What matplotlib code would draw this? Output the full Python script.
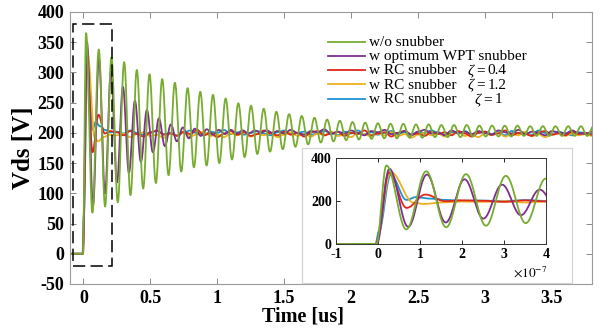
import numpy as np
import matplotlib
matplotlib.use('Agg')
import matplotlib.pyplot as plt
from matplotlib.patches import Rectangle
from matplotlib.lines import Line2D

plt.rcParams['font.family'] = ['Liberation Serif', 'DejaVu Serif']
plt.rcParams['mathtext.fontset'] = 'stix'
plt.rcParams['axes.unicode_minus'] = False

# ---------------- data (time in us, Vds in V) ----------------
legend_names = ['w/o snubber', 'w optimum WPT snubber', 'w RC snubber', 'w RC snubber', 'w RC snubber']
legend_zeta = [None, None, '0.4', '1.2', '1']
col_green, col_purple, col_red, col_yellow, col_blue = '#77AC30', '#7E2F8E', '#E2261B', '#EDB120', '#1E92D6'
legend_colors = [col_green, col_purple, col_red, col_yellow, col_blue]

x_ticks = [0, 0.5, 1, 1.5, 2, 2.5, 3, 3.5]
x_tick_labels = ['0', '0.5', '1', '1.5', '2', '2.5', '3', '3.5']
y_ticks = [-50, 0, 50, 100, 150, 200, 250, 300, 350, 400]
inset_x_ticks = [-1e-7, 0, 1e-7, 2e-7, 3e-7, 4e-7]
inset_x_tick_labels = ['-1', '0', '1', '2', '3', '4']
inset_x_multiplier = r'$\times10^{-7}$'
inset_y_ticks = [0, 200, 400]

# w/o snubber: flat start, then ringing extrema (peak / trough per cycle)
green_start_t = [-0.1, -0.004]
green_start_v = [0, 0]
green_first_peak_t = 0.02
green_period = 0.0948
green_peaks = [365, 338, 325, 317, 304, 297, 289, 283, 274, 268, 263, 257, 249, 245, 240, 235,
               231, 228, 225, 222, 220, 218, 217, 216, 215, 215, 214, 214, 213, 213, 213, 212,
               212, 212, 212, 211, 211, 211, 211, 211, 211]
green_troughs = [68, 78, 85, 97, 108, 117, 130, 136, 143, 146, 150, 156, 160, 165, 169, 173,
                 177, 181, 184, 186, 188, 189, 190, 191, 191, 192, 192, 193, 193, 193, 194, 194,
                 194, 194, 195, 195, 195, 195, 195, 195, 195]

# optimum WPT snubber
purple_start_t = [-0.1, -0.003]
purple_start_v = [0, 0]
purple_first_peak_t = 0.027
purple_period = 0.0895
purple_peaks = [350, 323, 301, 276, 253, 238, 224, 214, 209, 207, 206, 205, 205, 204, 204, 204]
purple_troughs = [80, 100, 118, 134, 152, 168, 178, 186, 191, 195, 197, 198, 199, 199, 200, 200]
purple_settle_t0 = 1.45
purple_settle = [203, 199, 205, 200, 197, 203, 201, 206, 198, 202,
                 199, 204, 200, 196, 203, 201, 205, 198, 200, 203,
                 197, 202, 205, 199, 201, 196, 204, 200, 202, 198,
                 203, 200, 197, 204, 201, 199, 205, 198, 202, 200,
                 196, 203, 201, 199, 204, 200, 198, 202]

# RC snubbers: transient points, then settled values every 0.05 us from 0.25 us
settle_t0 = 0.25
settle_step = 0.05
red_t = [-0.1, -0.006, 0.026, 0.068, 0.113, 0.16, 0.2]
red_v = [0, 0, 332, 168, 230, 199, 203]
red_settle = [201, 196, 203, 198, 194, 200, 204, 197, 199, 195,
              202, 198, 205, 196, 200, 193, 199, 203, 197, 201,
              195, 198, 204, 199, 196, 202, 197, 200, 194, 201,
              203, 196, 199, 202, 195, 200, 198, 204, 196, 199,
              201, 194, 200, 203, 197, 199, 195, 202, 198, 201,
              196, 203, 199, 194, 200, 202, 197, 199, 204, 196,
              200, 198, 195, 201, 203, 197, 199, 196, 202, 198, 200, 197]
yellow_t = [-0.1, -0.005, 0.03, 0.085, 0.11, 0.15, 0.2]
yellow_v = [0, 0, 335, 192, 186, 193, 197]
yellow_settle = [196, 199, 193, 198, 201, 195, 197, 192, 199, 196,
                 200, 194, 198, 202, 195, 197, 193, 199, 196, 201,
                 194, 198, 196, 200, 193, 197, 201, 195, 198, 194,
                 199, 196, 202, 195, 197, 193, 200, 198, 194, 199,
                 196, 201, 195, 198, 192, 197, 200, 196, 199, 194,
                 198, 201, 195, 197, 193, 199, 196, 200, 194, 198,
                 196, 202, 195, 198, 193, 197, 200, 195, 199, 196, 198, 195]
blue_t = [-0.1, -0.006, 0.002, 0.03, 0.068, 0.09, 0.125, 0.16, 0.2]
blue_v = [0, 0, 60, 322, 205, 218, 211, 205, 201]
blue_settle = [202, 199, 204, 200, 197, 201, 203, 198, 200, 196,
               201, 204, 199, 197, 202, 200, 205, 198, 201, 197,
               200, 203, 199, 196, 201, 204, 198, 200, 202, 197,
               199, 203, 200, 196, 202, 199, 204, 198, 201, 197,
               200, 203, 198, 201, 196, 202, 199, 204, 200, 197,
               201, 199, 203, 197, 200, 202, 198, 201, 196, 203,
               199, 201, 197, 204, 200, 198, 202, 199, 196, 201, 200, 198]

# dashed zoom box (data coords)
box_x0, box_y0, box_w, box_h = -0.078, -20, 0.292, 400


# ---------------- helpers: draw smooth curve through read points ----------------
def smooth_path(kt, kv, t):
    kt = np.asarray(kt, float)
    kv = np.asarray(kv, float)
    i = np.clip(np.searchsorted(kt, t, side='right') - 1, 0, len(kt) - 2)
    f = np.clip((t - kt[i]) / (kt[i + 1] - kt[i]), 0, 1)
    w = 0.5 - 0.5 * np.cos(np.pi * f)
    return kv[i] + (kv[i + 1] - kv[i]) * w


def ringing(start_t, start_v, t0, period, peaks, troughs):
    kt, kv = list(start_t), list(start_v)
    for k, (p, q) in enumerate(zip(peaks, troughs)):
        kt += [t0 + k * period, t0 + (k + 0.5) * period]
        kv += [p, q]
    return kt, kv


def with_settle(kt, kv, t0, step, settle):
    return list(kt) + [t0 + step * j for j in range(len(settle))], list(kv) + list(settle)


g_kt, g_kv = ringing(green_start_t, green_start_v, green_first_peak_t, green_period,
                     green_peaks, green_troughs)
p_kt, p_kv = ringing(purple_start_t, purple_start_v, purple_first_peak_t, purple_period,
                     purple_peaks, purple_troughs)
p_kt, p_kv = with_settle(p_kt, p_kv, purple_settle_t0, settle_step, purple_settle)
r_kt, r_kv = with_settle(red_t, red_v, settle_t0, settle_step, red_settle)
y_kt, y_kv = with_settle(yellow_t, yellow_v, settle_t0, settle_step, yellow_settle)
b_kt, b_kv = with_settle(blue_t, blue_v, settle_t0, settle_step, blue_settle)

traces = [  # drawing order: noisy ones first, green on top
    (b_kt, b_kv, col_blue),
    (y_kt, y_kv, col_yellow),
    (r_kt, r_kv, col_red),
    (p_kt, p_kv, col_purple),
    (g_kt, g_kv, col_green),
]

t_main = np.linspace(-0.1, 3.8, 9000)
t_ins = np.linspace(-0.1, 0.4, 3000)

# ---------------- figure ----------------
W, H = 602, 328
fig = plt.figure(figsize=(W / 100, H / 100), dpi=100)
ax = fig.add_axes([70 / W, 1 - 284 / H, 522 / W, 272 / H])

for kt, kv, c in traces:
    ax.plot(t_main, smooth_path(kt, kv, t_main), color=c, lw=1.3)

ax.add_patch(Rectangle((box_x0, box_y0), box_w, box_h, fill=False, ec='black',
                       lw=1.1, ls=(0, (8, 3.5)), zorder=5))

ax.set_xlim(-0.1, 3.8)
ax.set_ylim(-50, 400)
ax.set_xticks(x_ticks)
ax.set_xticklabels(x_tick_labels)
ax.set_yticks(y_ticks)
ax.set_yticklabels([str(v) for v in y_ticks])
ax.tick_params(direction='in', top=True, right=True, length=4, width=0.7,
               color='#8a8a8a', labelsize=13, pad=4)
for lab in ax.get_xticklabels() + ax.get_yticklabels():
    lab.set_fontweight('bold')
for s in ax.spines.values():
    s.set_color('#9a9a9a')
    s.set_linewidth(0.8)
ax.set_ylabel('Vds [V]', fontsize=18, fontweight='bold', labelpad=2)
ax.set_xlabel('Time [us]', fontsize=14.5, fontweight='bold')
ax.xaxis.set_label_coords((303 - 70) / 522, (284 - 307) / 272)

# legend (frameless, rows placed as in the reference)
row_y0, row_dy = 41.5, 14.3
for i, (name, z, c) in enumerate(zip(legend_names, legend_zeta, legend_colors)):
    yc = 1 - (row_y0 + i * row_dy) / H
    yb = yc - 4.2 / H
    fig.add_artist(Line2D([328 / W, 365 / W], [yc, yc], color=c, lw=1.3,
                          transform=fig.transFigure))
    fig.text(369 / W, yb, name, ha='left', va='baseline', fontsize=11)
    if z is not None:
        shift = 7 if z == '1' else 0
        fig.text((467 + shift) / W, yb, '\u03b6', ha='left', va='baseline',
                 fontsize=11, style='italic')
        fig.text((476 + shift) / W, yb, '=', ha='left', va='baseline', fontsize=11)
        fig.text((487.5 + shift) / W, yb, z, ha='left', va='baseline', fontsize=11)

# inset background panel
bg = fig.add_axes([302 / W, 1 - 283 / H, 270 / W, 135 / H], zorder=3)
bg.set_xticks([])
bg.set_yticks([])
for s in bg.spines.values():
    s.set_color('#d4d4d4')
    s.set_linewidth(0.9)

ins = fig.add_axes([336 / W, 1 - 244 / H, 210 / W, 86 / H], zorder=4)
for kt, kv, c in traces:
    ins.plot(t_ins * 1e-6, smooth_path(kt, kv, t_ins), color=c, lw=1.3)
ins.set_xlim(-1e-7, 4e-7)
ins.set_ylim(0, 400)
ins.set_xticks(inset_x_ticks)
ins.set_xticklabels(inset_x_tick_labels)
ins.set_yticks(inset_y_ticks)
ins.set_yticklabels([str(v) for v in inset_y_ticks])
ins.tick_params(direction='in', top=True, right=True, length=3, width=0.6,
                labelsize=10, pad=3)
for lab in ins.get_xticklabels() + ins.get_yticklabels():
    lab.set_fontweight('bold')
for s in ins.spines.values():
    s.set_color('#333333')
    s.set_linewidth(0.7)
fig.text(547 / W, 1 - 272 / H, inset_x_multiplier, ha='right', va='center',
         fontsize=9.5, zorder=6)

fig.savefig('out.png', dpi=100)
